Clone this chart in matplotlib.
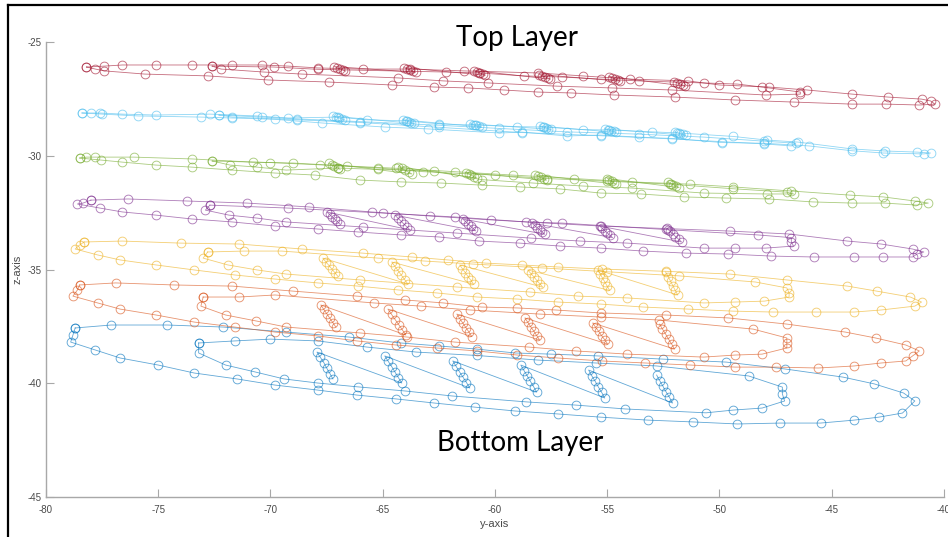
import matplotlib
matplotlib.use("Agg")
import matplotlib.pyplot as plt
from matplotlib.lines import Line2D

# ---------------- data (y-axis, z-axis) ----------------
# Layer 1 (bottom, blue)
blue_outer = [(-78.7,-37.57),(-77.1,-37.44),(-74.6,-37.44),(-72.1,-37.53),(-69.3,-37.75),(-66.5,-37.97),
              (-64.2,-38.23),(-62.5,-38.36),(-60.8,-38.50),(-59.1,-38.67),(-57.5,-38.72),(-55.4,-38.80),
              (-52.5,-38.94),(-49.7,-39.07),(-47.1,-39.37),(-44.5,-39.73),(-43.1,-40.03),(-41.8,-40.43),
              (-41.3,-40.78),(-41.85,-41.31),(-42.9,-41.49),(-44.0,-41.62),(-45.5,-41.75),(-47.3,-41.75),
              (-49.2,-41.79),(-51.2,-41.70),(-53.2,-41.62),(-55.3,-41.49),(-57.2,-41.35),(-59.1,-41.22),
              (-60.9,-41.05),(-62.7,-40.87),(-64.4,-40.69),(-66.15,-40.52),(-67.9,-40.30),(-69.8,-40.08),
              (-71.5,-39.81),(-73.4,-39.55),(-75.0,-39.20),(-76.7,-38.89),(-77.8,-38.54),(-78.9,-38.19),
              (-78.8,-37.88),(-78.7,-37.57)]
blue_inner = [(-73.2,-38.23),(-71.6,-38.14),(-70.0,-38.06),(-67.9,-38.14),(-65.7,-38.41),(-63.5,-38.63),
              (-60.8,-38.78),(-58.1,-38.98),(-55.5,-39.11),(-52.8,-39.24),(-48.7,-39.68),(-47.2,-40.17),
              (-47.2,-40.47),(-47.1,-40.78),(-48.1,-41.09),(-49.4,-41.18),(-50.6,-41.30),(-54.2,-41.13),
              (-56.4,-40.96),(-58.6,-40.82),(-61.9,-40.56),(-64.0,-40.34),(-66.1,-40.16),(-67.9,-39.99),
              (-69.4,-39.81),(-70.7,-39.50),(-72.0,-39.20),(-73.2,-38.67),(-73.2,-38.23)]
blue_fill = [(-67.22,-39.81),(-67.35,-39.58),(-67.50,-39.33),(-67.62,-39.10),(-67.78,-38.86),(-67.93,-38.63),
             (-64.15,-39.99),(-64.30,-39.76),(-64.46,-39.50),(-64.60,-39.27),(-64.76,-39.03),(-64.91,-38.80),
             (-61.12,-40.21),(-61.27,-39.97),(-61.42,-39.74),(-61.58,-39.50),(-61.73,-39.26),(-61.88,-39.02),
             (-58.14,-40.39),(-58.28,-40.15),(-58.42,-39.92),(-58.57,-39.67),(-58.71,-39.44),(-58.85,-39.20),
             (-55.11,-40.65),(-55.25,-40.40),(-55.40,-40.16),(-55.54,-39.91),(-55.69,-39.67),(-55.83,-39.42),
             (-52.09,-40.87),(-52.23,-40.62),(-52.38,-40.38),(-52.52,-40.13),(-52.66,-39.89),(-52.80,-39.64)]

# Layer 2 (orange)
orange_outer = [(-78.5,-35.68),(-76.9,-35.59),(-74.3,-35.68),(-71.7,-35.73),(-69.0,-35.95),(-66.15,-36.17),
                (-64.0,-36.34),(-62.3,-36.47),(-60.6,-36.65),(-59.0,-36.69),(-57.3,-36.78),(-55.3,-36.91),
                (-52.4,-37.00),(-49.6,-37.13),(-47.0,-37.40),(-44.4,-37.75),(-43.05,-38.01),(-41.7,-38.32),
                (-41.1,-38.58),(-41.4,-38.80),(-41.7,-39.02),(-42.8,-39.11),(-44.0,-39.24),(-45.6,-39.33),
                (-47.5,-39.29),(-49.3,-39.29),(-51.3,-39.20),(-53.3,-39.11),(-55.25,-39.02),(-57.2,-38.89),
                (-59.0,-38.76),(-60.8,-38.58),(-62.6,-38.45),(-64.4,-38.32),(-66.15,-38.14),(-67.9,-37.92),
                (-69.8,-37.75),(-71.6,-37.53),(-73.4,-37.31),(-75.1,-37.00),(-76.7,-36.74),(-77.7,-36.47),
                (-78.8,-36.17),(-78.6,-35.90),(-78.5,-35.68)]
orange_inner = [(-73.0,-36.21),(-71.4,-36.21),(-69.8,-36.12),(-65.4,-36.47),(-63.3,-36.61),(-61.1,-36.78),
                (-58.0,-36.96),(-55.3,-37.09),(-52.7,-37.22),(-48.5,-37.62),(-47.0,-38.01),(-47.0,-38.23),
                (-47.0,-38.45),(-48.1,-38.72),(-49.3,-38.76),(-50.7,-38.85),(-54.1,-38.72),(-56.4,-38.58),
                (-58.5,-38.41),(-61.8,-38.19),(-63.9,-37.97),(-66.0,-37.79),(-69.3,-37.53),(-70.65,-37.26),
                (-72.0,-37.00),(-73.1,-36.61),(-73.0,-36.21)]
orange_fill = [(-67.09,-37.53),(-67.22,-37.34),(-67.36,-37.14),(-67.49,-36.95),(-67.63,-36.75),(-67.76,-36.56),
               (-63.97,-37.88),(-64.13,-37.65),(-64.29,-37.42),(-64.45,-37.20),(-64.61,-36.97),(-64.77,-36.74),
               (-61.03,-37.95),(-61.16,-37.75),(-61.30,-37.55),(-61.43,-37.36),(-61.57,-37.16),(-61.70,-36.96),
               (-58.01,-38.10),(-58.14,-37.91),(-58.27,-37.71),(-58.41,-37.52),(-58.54,-37.32),(-58.67,-37.13),
               (-54.98,-38.28),(-55.11,-38.09),(-55.25,-37.91),(-55.38,-37.72),(-55.52,-37.54),(-55.65,-37.35),
               (-52.00,-38.50),(-52.13,-38.28),(-52.27,-38.06),(-52.40,-37.84),(-52.54,-37.62),(-52.67,-37.40)]

# Layer 3 (yellow)
yellow_outer = [(-78.3,-33.79),(-76.6,-33.75),(-74.0,-33.84),(-71.4,-33.88),(-68.6,-34.10),(-65.9,-34.28),
                (-63.7,-34.45),(-62.1,-34.58),(-60.4,-34.72),(-58.8,-34.80),(-57.2,-34.89),(-55.25,-34.98),
                (-52.4,-35.08),(-49.55,-35.20),(-47.0,-35.46),(-44.3,-35.73),(-43.0,-35.95),(-41.5,-36.21),
                (-41.0,-36.43),(-41.3,-36.61),(-42.8,-36.78),(-44.0,-36.87),(-45.7,-36.87),(-47.6,-36.87),
                (-49.4,-36.83),(-51.4,-36.74),(-53.4,-36.65),(-55.3,-36.52),(-57.2,-36.43),(-59.0,-36.30),
                (-60.8,-36.21),(-62.6,-36.03),(-64.3,-35.90),(-66.1,-35.73),(-67.9,-35.59),(-69.8,-35.42),
                (-71.6,-35.24),(-73.4,-35.02),(-75.1,-34.80),(-76.7,-34.58),(-77.7,-34.36),(-78.7,-34.10),
                (-78.5,-33.92),(-78.3,-33.79)]
yellow_inner = [(-72.8,-34.23),(-71.2,-34.19),(-69.5,-34.19),(-65.2,-34.50),(-63.1,-34.63),(-61.0,-34.76),
                (-57.9,-34.93),(-55.0,-35.10),(-51.8,-35.28),(-48.4,-35.55),(-47.0,-35.81),(-46.9,-36.03),
                (-46.9,-36.21),(-48.0,-36.39),(-49.3,-36.43),(-50.7,-36.47),(-54.1,-36.25),(-56.3,-36.17),
                (-58.45,-35.99),(-61.7,-35.77),(-66.0,-35.46),(-69.3,-35.20),(-70.6,-35.02),(-71.9,-34.80),
                (-73.0,-34.50),(-72.8,-34.23)]
yellow_fill = [(-67.00,-35.30),(-67.13,-35.14),(-67.27,-34.98),(-67.40,-34.82),(-67.54,-34.66),(-67.67,-34.50),
               (-63.88,-35.64),(-64.02,-35.45),(-64.17,-35.25),(-64.31,-35.06),(-64.46,-34.86),(-64.60,-34.67),
               (-60.95,-35.65),(-61.07,-35.48),(-61.20,-35.31),(-61.32,-35.14),(-61.45,-34.97),(-61.57,-34.80),
               (-57.87,-35.78),(-58.00,-35.63),(-58.14,-35.48),(-58.27,-35.32),(-58.41,-35.17),(-58.54,-35.02),
               (-54.89,-35.92),(-55.00,-35.74),(-55.10,-35.56),(-55.21,-35.38),(-55.31,-35.20),(-55.42,-35.02),
               (-51.86,-36.12),(-51.97,-35.92),(-52.08,-35.71),(-52.18,-35.51),(-52.29,-35.31),(-52.40,-35.11)]

# Layer 4 (purple)
purple_outer = [(-78.0,-31.95),(-76.35,-31.90),(-73.7,-31.99),(-71.05,-32.08),(-68.3,-32.25),(-65.5,-32.47),
                (-62.9,-32.65),(-60.2,-32.82),(-57.7,-32.96),(-55.3,-33.09),(-52.4,-33.20),(-49.55,-33.31),
                (-46.9,-33.44),(-44.3,-33.75),(-42.8,-33.88),(-41.4,-34.10),(-40.9,-34.23),(-41.2,-34.32),
                (-41.4,-34.45),(-42.7,-34.45),(-44.0,-34.45),(-45.8,-34.45),(-47.7,-34.41),(-49.6,-34.32),
                (-51.5,-34.28),(-53.4,-34.19),(-55.3,-34.06),(-57.1,-33.97),(-58.9,-33.84),(-60.7,-33.75),
                (-62.5,-33.57),(-64.2,-33.48),(-66.1,-33.35),(-67.9,-33.22),(-69.8,-33.09),(-71.7,-32.91),
                (-73.5,-32.78),(-75.1,-32.61),(-76.6,-32.47),(-77.6,-32.30),(-78.6,-32.12),(-78.35,-32.08),
                (-78.0,-31.95)]
purple_inner = [(-72.7,-32.17),(-69.2,-32.30),(-65.0,-32.52),(-61.8,-32.69),(-58.6,-32.91),(-57.0,-32.96),
                (-52.3,-33.25),(-48.3,-33.48),(-46.8,-33.60),(-46.8,-33.79),(-46.7,-33.97),(-47.95,-34.06),
                (-49.3,-34.06),(-50.7,-34.06),(-54.1,-33.84),(-56.2,-33.75),(-58.4,-33.62),(-61.7,-33.40),
                (-65.9,-33.13),(-69.3,-32.91),(-70.6,-32.74),(-71.85,-32.61),(-72.9,-32.39),(-72.7,-32.17)]
purple_fill = [(-66.91,-33.00),(-67.03,-32.89),(-67.14,-32.79),(-67.26,-32.68),(-67.37,-32.58),(-67.49,-32.47),
               (-63.79,-33.26),(-63.92,-33.13),(-64.06,-33.00),(-64.19,-32.87),(-64.33,-32.74),(-64.46,-32.61),
               (-60.86,-33.30),(-60.98,-33.20),(-61.09,-33.09),(-61.21,-32.99),(-61.32,-32.88),(-61.44,-32.78),
               (-57.78,-33.45),(-57.90,-33.35),(-58.01,-33.25),(-58.13,-33.16),(-58.24,-33.06),(-58.36,-32.96),
               (-54.76,-33.60),(-54.88,-33.50),(-54.99,-33.40),(-55.11,-33.29),(-55.22,-33.19),(-55.34,-33.09),
               (-51.69,-33.79),(-51.82,-33.67),(-51.96,-33.55),(-52.09,-33.42),(-52.22,-33.30),(-52.35,-33.18)]

# Layer 5 (green)
green_outer = [(-78.5,-30.10),(-78.2,-30.06),(-77.8,-30.06),(-76.1,-30.06),(-73.5,-30.14),(-70.8,-30.28),
               (-69.0,-30.32),(-66.6,-30.45),(-64.4,-30.55),(-61.8,-30.70),(-59.2,-30.85),(-56.5,-31.00),
               (-53.9,-31.15),(-51.3,-31.25),(-49.4,-31.37),(-46.8,-31.55),(-44.2,-31.73),(-42.7,-31.81),
               (-41.3,-31.99),(-40.7,-32.08),(-41.2,-32.17),(-42.65,-32.08),(-44.1,-32.08),(-45.85,-32.03),
               (-47.8,-31.90),(-49.7,-31.86),(-51.6,-31.81),(-53.5,-31.68),(-55.3,-31.64),(-57.1,-31.46),
               (-58.9,-31.37),(-60.6,-31.29),(-62.4,-31.20),(-64.2,-31.15),(-66.0,-31.07),(-68.0,-30.85),
               (-69.8,-30.76),(-71.7,-30.63),(-73.5,-30.50),(-75.1,-30.41),(-76.6,-30.28),(-77.55,-30.19),
               (-78.5,-30.10)]
green_inner = [(-72.6,-30.23),(-70.0,-30.30),(-67.8,-30.40),(-65.2,-30.54),(-63.2,-30.70),(-60.0,-30.85),
               (-57.7,-31.00),(-55.0,-31.12),(-52.2,-31.25),(-49.4,-31.45),(-47.0,-31.60),(-46.7,-31.68),
               (-47.9,-31.68),(-50.7,-31.64),(-53.9,-31.42),(-56.1,-31.33),(-58.3,-31.20),(-60.6,-31.05),
               (-62.7,-30.67),(-65.2,-30.60),(-67.0,-30.54),(-69.3,-30.63),(-70.6,-30.50),(-71.8,-30.41),
               (-72.6,-30.23)]
green_fill = [(-66.9,-30.60),(-67.0,-30.54),(-67.15,-30.47),(-67.28,-30.40),(-67.4,-30.34),
              (-63.7,-30.80),(-63.85,-30.72),(-64.0,-30.64),(-64.15,-30.56),(-64.3,-30.48),
              (-60.8,-30.98),(-60.92,-30.92),(-61.05,-30.86),(-61.18,-30.80),(-61.3,-30.74),
              (-57.7,-31.07),(-57.82,-31.01),(-57.95,-30.95),(-58.08,-30.90),(-58.2,-30.84),
              (-54.6,-31.25),(-54.7,-31.19),(-54.8,-31.12),(-54.9,-31.06),(-55.0,-31.00),
              (-51.8,-31.40),(-51.92,-31.34),(-52.05,-31.28),(-52.18,-31.22),(-52.3,-31.16)]

# Layer 6 (light blue)
lblue_outer = [(-78.4,-28.12),(-78.0,-28.12),(-77.6,-28.12),(-76.6,-28.17),(-75.1,-28.21),(-72.7,-28.17),
               (-70.6,-28.25),(-69.2,-28.34),(-67.0,-28.30),(-65.7,-28.42),(-63.9,-28.47),(-62.5,-28.60),
               (-60.9,-28.65),(-59.0,-28.72),(-57.8,-28.74),(-56.1,-28.85),(-54.9,-28.87),(-53.0,-28.95),
               (-51.8,-29.00),(-49.4,-29.15),(-47.9,-29.31),(-46.5,-29.40),(-44.1,-29.70),(-42.65,-29.79),
               (-41.2,-29.84),(-40.6,-29.88),(-40.9,-29.92),(-42.7,-29.88),(-44.1,-29.78),(-46.0,-29.57),
               (-48.0,-29.45),(-49.9,-29.42),(-52.1,-29.24),(-53.6,-29.18),(-55.3,-29.09),(-56.8,-29.13),
               (-58.8,-28.96),(-59.8,-29.00),(-63.0,-28.82),(-64.9,-28.74),(-67.7,-28.56),(-69.8,-28.40),
               (-71.7,-28.34),(-73.1,-28.30),(-75.9,-28.25),(-77.5,-28.17),(-78.4,-28.12)]
lblue_inner = [(-72.3,-28.21),(-70.4,-28.30),(-68.8,-28.38),(-66.0,-28.50),(-62.5,-28.66),(-59.8,-28.80),
               (-56.8,-28.95),(-53.6,-29.05),(-50.7,-29.18),(-48.0,-29.36),(-46.6,-29.45),(-46.8,-29.57),
               (-48.0,-29.48),(-49.9,-29.38),(-52.1,-29.26),(-55.3,-29.12),(-58.8,-28.98),(-62.5,-28.75),
               (-66.0,-28.54),(-68.8,-28.42),(-71.7,-28.30),(-72.3,-28.21)]
lblue_fill = [(-66.7,-28.42),(-66.82,-28.38),(-66.95,-28.34),(-67.08,-28.30),(-67.2,-28.26),
              (-63.6,-28.58),(-63.72,-28.54),(-63.85,-28.50),(-63.98,-28.46),(-64.1,-28.42),
              (-60.6,-28.74),(-60.72,-28.71),(-60.85,-28.67),(-60.98,-28.64),(-61.1,-28.60),
              (-57.5,-28.84),(-57.62,-28.81),(-57.75,-28.77),(-57.88,-28.74),(-58.0,-28.70),
              (-54.6,-28.97),(-54.72,-28.93),(-54.85,-28.90),(-54.98,-28.86),(-55.1,-28.82),
              (-51.5,-29.10),(-51.62,-29.06),(-51.75,-29.03),(-51.88,-28.99),(-52.0,-28.95)]

# Layer 7 (top, dark red)
red_outer = [(-78.2,-26.10),(-77.4,-26.06),(-76.6,-26.01),(-75.1,-26.01),(-73.5,-26.01),(-71.7,-26.01),
             (-70.4,-26.01),(-69.2,-26.06),(-67.9,-26.14),(-65.9,-26.19),(-63.8,-26.19),(-61.4,-26.27),
             (-58.1,-26.36),(-56.1,-26.49),(-54.0,-26.63),(-51.4,-26.71),(-50.0,-26.89),(-47.8,-26.98),
             (-46.1,-27.11),(-44.1,-27.29),(-42.5,-27.42),(-41.0,-27.51),(-40.6,-27.59),(-40.4,-27.73),
             (-41.1,-27.77),(-42.6,-27.73),(-44.1,-27.73),(-46.7,-27.64),(-49.3,-27.55),(-52.0,-27.42),
             (-54.7,-27.33),(-56.6,-27.24),(-58.1,-27.20),(-59.6,-27.11),(-61.2,-27.02),(-62.7,-26.98),
             (-64.6,-26.89),(-67.4,-26.76),(-70.1,-26.67),(-72.8,-26.49),(-75.6,-26.41),(-77.4,-26.27),
             (-77.8,-26.19),(-78.2,-26.10)]
red_inner = [(-72.6,-26.06),(-69.85,-26.10),(-67.9,-26.20),(-62.2,-26.32),(-60.7,-26.36),(-58.7,-26.49),
             (-57.0,-26.54),(-55.3,-26.63),(-53.6,-26.71),(-50.7,-26.80),(-49.2,-26.85),(-48.1,-26.98),
             (-46.4,-27.20),(-46.4,-27.29),(-47.95,-27.33),(-52.1,-27.11),(-54.8,-27.02),(-57.25,-26.94),
             (-60.3,-26.80),(-62.3,-26.71),(-64.3,-26.58),(-68.6,-26.41),(-70.3,-26.32),(-72.2,-26.19),
             (-72.6,-26.06)]
red_fill = [(-66.66,-26.28),(-66.78,-26.23),(-66.91,-26.18),(-67.04,-26.13),(-67.16,-26.08),
            (-63.54,-26.33),(-63.66,-26.28),(-63.79,-26.23),(-63.92,-26.18),(-64.04,-26.13),
            (-60.43,-26.46),(-60.55,-26.41),(-60.68,-26.36),(-60.81,-26.31),(-60.93,-26.26),
            (-57.53,-26.63),(-57.65,-26.58),(-57.78,-26.53),(-57.91,-26.48),(-58.03,-26.43),
            (-54.42,-26.72),(-54.54,-26.67),(-54.67,-26.62),(-54.80,-26.57),(-54.92,-26.52),
            (-51.52,-26.94),(-51.64,-26.89),(-51.77,-26.84),(-51.90,-26.79),(-52.02,-26.74)]

layer_colors = ['#0072BD', '#D95319', '#EDB120', '#7E2F8E', '#77AC30', '#4DBEEE', '#A2142F']
x_ticks = [-80, -75, -70, -65, -60, -55, -50, -45, -40]
y_ticks = [-45, -40, -35, -30, -25]

layers = [
    (blue_outer, blue_inner, blue_fill),
    (orange_outer, orange_inner, orange_fill),
    (yellow_outer, yellow_inner, yellow_fill),
    (purple_outer, purple_inner, purple_fill),
    (green_outer, green_inner, green_fill),
    (lblue_outer, lblue_inner, lblue_fill),
    (red_outer, red_inner, red_fill),
]

# ---------------- figure ----------------
plt.rcParams['font.family'] = ['Liberation Sans', 'DejaVu Sans']
plt.rcParams['axes.unicode_minus'] = False

W, H = 948, 537
fig = plt.figure(figsize=(W / 100, H / 100), dpi=100)
ax = fig.add_axes([46 / W, 40 / H, 898 / W, 455 / H])

for color, pieces in zip(layer_colors, layers):
    for piece in pieces:
        ys = [p[0] for p in piece]
        zs = [p[1] for p in piece]
        ax.plot(ys, zs, '-o', color=color, lw=0.6, ms=6.3, mfc='none', mew=0.65, alpha=0.62)

ax.set_xlim(-80, -40)
ax.set_ylim(-45, -25)
ax.set_xticks(x_ticks)
ax.set_yticks(y_ticks)

for s in ['top', 'right']:
    ax.spines[s].set_visible(False)
for s in ['left', 'bottom']:
    ax.spines[s].set_color('#a8a8a8')
    ax.spines[s].set_linewidth(1.0)

ax.tick_params(axis='both', direction='in', length=6, width=0.8, color='#a8a8a8',
               labelcolor='#4a4a4a', labelsize=7)
ax.tick_params(axis='x', pad=5.5)
ax.tick_params(axis='y', pad=3)

ax.set_xlabel('y-axis', fontsize=8, color='#4a4a4a', labelpad=3)
ax.set_ylabel('z-axis', fontsize=8, color='#4a4a4a', labelpad=4)

fig.text(517 / W, 1 - 46 / H, 'Top Layer', ha='center', va='baseline',
         fontsize=20, family=['Lato', 'DejaVu Sans'], color='black')
fig.text(520 / W, 1 - 451 / H, 'Bottom Layer', ha='center', va='baseline',
         fontsize=20, family=['Lato', 'DejaVu Sans'], color='black')

# screenshot frame (top and left edges)
fig.add_artist(Line2D([8 / W, 8 / W], [0, 1 - 5 / H], transform=fig.transFigure, color='black', lw=1.6))
fig.add_artist(Line2D([8 / W, 1], [1 - 5 / H, 1 - 5 / H], transform=fig.transFigure, color='black', lw=1.6))

fig.savefig('out.png', dpi=100)
